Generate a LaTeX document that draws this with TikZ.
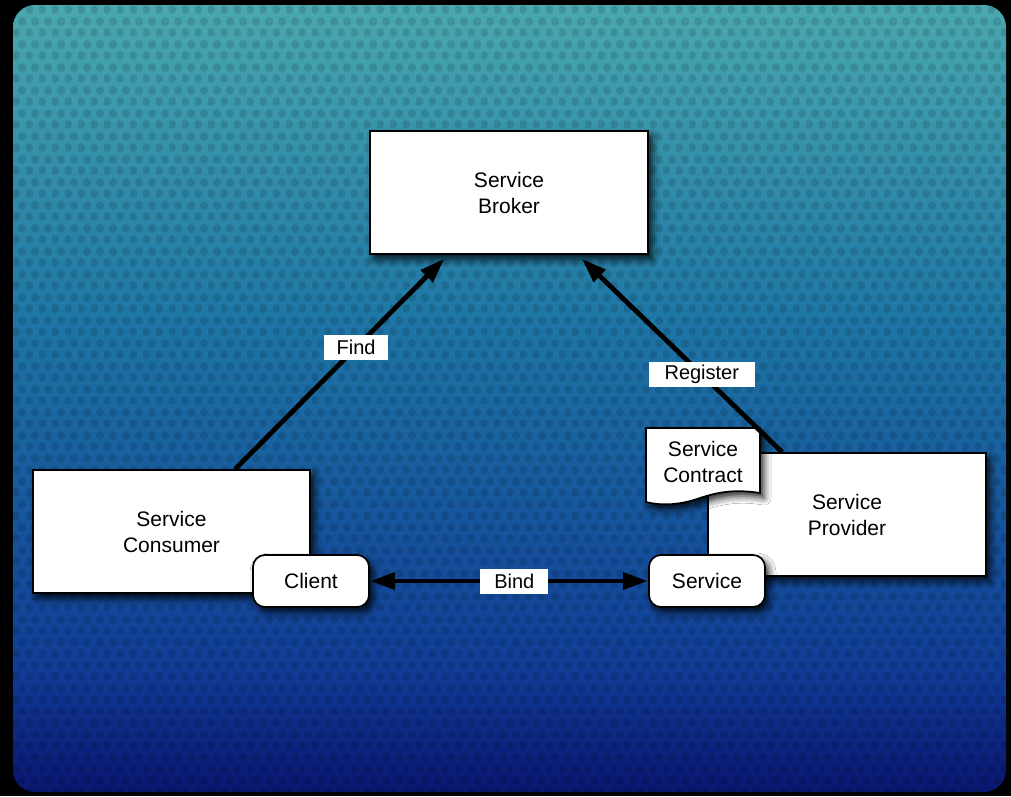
\documentclass[tikz,border=0pt]{standalone}
\usepackage{fontspec}
\setmainfont{Liberation Sans}
\usetikzlibrary{decorations.markings,shadows.blur,patterns}
\pgfdeclarepatternformonly{hexdots}{\pgfpointorigin}{\pgfpoint{13pt}{22.5pt}}{\pgfpoint{13pt}{22.5pt}}{%
  \pgfpathcircle{\pgfpoint{3.25pt}{5.6pt}}{4.4pt}%
  \pgfpathcircle{\pgfpoint{9.75pt}{16.85pt}}{4.4pt}%
  \pgfusepath{fill}}
\definecolor{topc}{RGB}{74,168,175}
\definecolor{upc}{RGB}{30,118,165}
\definecolor{lowc}{RGB}{16,60,150}
\definecolor{botc}{RGB}{10,22,112}
\pgfdeclareverticalshading{bgshade}{100bp}{color(0bp)=(botc); color(25bp)=(botc); color(32.75bp)=(lowc); color(55bp)=(upc); color(75bp)=(topc); color(100bp)=(topc)}
\tikzset{
  shad/.style={blur shadow={shadow xshift=4pt, shadow yshift=-5pt, shadow blur radius=7pt, shadow opacity=85}},
  box/.style={draw=black, line width=1.7pt, fill=white, inner sep=0pt, align=center,
    font=\fontsize{21}{26}\selectfont, shad},
  pill/.style={box, rounded corners=12pt, minimum width=116pt, minimum height=52pt},
  lbl/.style={fill=white, inner sep=0pt, minimum height=25pt, font=\fontsize{20}{24}\selectfont},
  conn/.style={line width=4.8pt, draw=black},
  headend/.style={postaction={decorate, decoration={markings,
    mark=at position 1 with {\fill[black] (5pt,0pt) -- (-19pt,9pt) -- (-19pt,-9pt) -- cycle;}}}},
  headstart/.style={postaction={decorate, decoration={markings,
    mark=at position 0 with {\fill[black] (-5pt,0pt) -- (19pt,9pt) -- (19pt,-9pt) -- cycle;}}}},
}
\begin{document}
\begin{tikzpicture}[x=1pt,y=1pt]
\useasboundingbox (0,0) rectangle (1011,-796);
\fill[black] (0,0) rectangle (1011,-796);
\shade[shading=bgshade, rounded corners=22pt] (13,-5) rectangle (1006,-792);
\fill[pattern=hexdots, pattern color=black, opacity=0.12, rounded corners=22pt] (13,-5) rectangle (1006,-792);

\node[box, minimum width=278pt, minimum height=123pt] (broker) at (509,-192.5) {Service\\Broker};
\node[box, minimum width=277pt, minimum height=123pt] (consumer) at (171.5,-531.5) {Service\\Consumer};
\node[box, minimum width=278pt, minimum height=123pt] (provider) at (847,-514.5) {Service\\Provider};

\path[draw=black, line width=1.7pt, fill=white, shad]
  (646,-428) -- (760,-428) -- (760,-493)
  .. controls (735,-489) and (718,-492) .. (700,-498)
  .. controls (680,-505) and (662,-506) .. (646,-502) -- cycle;
\node[inner sep=0pt, align=center, font=\fontsize{21}{26}\selectfont] (contract) at (703,-462) {Service\\Contract};

\node[pill] (client) at (311,-581) {Client};
\node[pill] (service) at (707,-581) {Service};

\draw[conn, headend] ([xshift=203pt]consumer.north west) -- node[lbl, pos=0.59, minimum width=64pt] {Find} ([xshift=71pt,yshift=-8pt]broker.south west);
\draw[conn, headend] ([xshift=75pt]provider.north west) -- node[lbl, pos=0.41, minimum width=106pt] {Register} ([xshift=217pt,yshift=-8pt]broker.south west);
\draw[conn, headend, headstart] ([xshift=6pt]client.east) -- node[lbl, pos=0.52, minimum width=68pt] {Bind} ([xshift=-6pt]service.west);
\end{tikzpicture}
\end{document}
